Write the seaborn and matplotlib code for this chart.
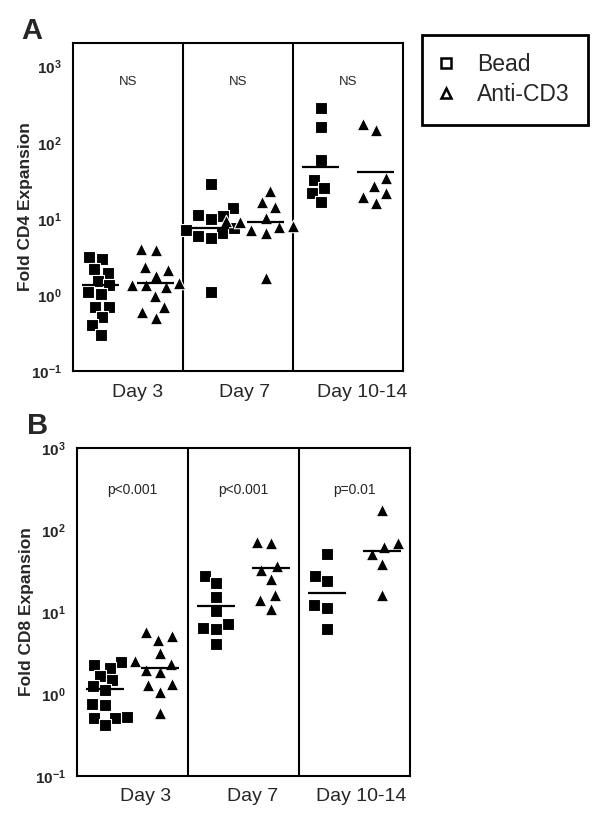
import matplotlib
import matplotlib.pyplot as plt
import pandas as pd
import seaborn as sns
from matplotlib.lines import Line2D
from matplotlib.ticker import NullLocator

matplotlib.use("Agg")


DAYS = ["Day 3", "Day 7", "Day 10-14"]
TREATMENTS = ["Bead", "Anti-CD3"]

# panel A - fold CD4 expansion
cd4_bead_day3 = [3.13, 2.97, 2.20, 1.93, 1.54, 1.33, 1.10, 1.02, 0.70, 0.69, 0.51, 0.40, 0.30]
cd4_anti_day3 = [3.99, 3.95, 2.35, 2.13, 1.78, 1.44, 1.36, 1.33, 1.27, 0.97, 0.70, 0.59, 0.50]
cd4_bead_day7 = [28.7, 13.9, 11.4, 11.0, 10.0, 7.6, 7.1, 6.5, 6.0, 5.6, 1.09]
cd4_anti_day7 = [23.5, 16.8, 14.2, 10.4, 9.5, 9.2, 8.1, 7.8, 7.1, 6.6, 1.69]
cd4_bead_day10 = [284, 163, 59.4, 32.4, 25.2, 22.1, 16.8]
cd4_anti_day10 = [177, 147, 34.2, 27.1, 21.7, 19.6, 16.3]
cd4_bead_lines = [1.35, 7.5, 48.5]
cd4_anti_lines = [1.43, 9.0, 41.7]
cd4_notes = ["NS", "NS", "NS"]

# panel B - fold CD8 expansion
cd8_bead_day3 = [2.41, 2.21, 2.04, 1.63, 1.45, 1.23, 1.10, 0.75, 0.73, 0.52, 0.51, 0.50, 0.41]
cd8_anti_day3 = [5.64, 5.0, 4.56, 3.13, 2.50, 2.32, 1.96, 1.83, 1.32, 1.26, 1.05, 0.58]
cd8_bead_day7 = [26.9, 22.3, 15.1, 10.2, 7.0, 6.3, 6.1, 4.0]
cd8_anti_day7 = [70.6, 68.6, 35.7, 32.5, 25.2, 15.8, 14.0, 10.9]
cd8_bead_day10 = [51, 27.2, 23.4, 12.2, 11.1, 6.1]
cd8_anti_day10 = [172, 68.7, 61.4, 50.0, 38.5, 15.8]
cd8_bead_lines = [1.15, 11.9, 16.9]
cd8_anti_lines = [2.07, 34.4, 54.4]
cd8_notes = ["p<0.001", "p<0.001", "p=0.01"]

OFFSETS = {"Bead": -0.25, "Anti-CD3": 0.25}
MARKERS = {"Bead": "s", "Anti-CD3": "^"}
# thin white edge keeps the swarm spacing a touch wider than the black marks
SIZES = {"Bead": 8.0, "Anti-CD3": 9.0}
EDGE = 0.8


def build_frame(bead_groups, anti_groups) -> pd.DataFrame:
    rows = []
    for treatment, groups in (("Bead", bead_groups), ("Anti-CD3", anti_groups)):
        for idx, values in enumerate(groups):
            for v in values:
                rows.append(
                    {"day": DAYS[idx], "treatment": treatment,
                     "pos": idx + OFFSETS[treatment], "value": v}
                )
    return pd.DataFrame(rows)


def draw_panel(ax, df, bead_lines, anti_lines, notes, ylabel, ytop, note_y,
               tick_pos, label_x):
    for treatment in TREATMENTS:
        sub = df[df["treatment"] == treatment]
        sns.swarmplot(
            data=sub, x="pos", y="value", native_scale=True, orient="x",
            log_scale=(False, True), marker=MARKERS[treatment],
            size=SIZES[treatment], color="black", edgecolor="white",
            linewidth=EDGE, ax=ax,
        )

    for treatment, lines in (("Bead", bead_lines), ("Anti-CD3", anti_lines)):
        centers = [i + OFFSETS[treatment] for i in range(len(lines))]
        ax.hlines(lines, [c - 0.17 for c in centers], [c + 0.17 for c in centers],
                  colors="black", linewidth=1.6, zorder=5)

    for x in (0.5, 1.5):
        ax.axvline(x, color="black", linewidth=1.5)

    for i, note in enumerate(notes):
        ax.text(i, note_y, note, ha="center", va="center",
                fontsize=10 if "p" in note else 9.5,
                transform=ax.get_xaxis_transform())

    ax.set_xlim(-0.5, 2.5)
    ax.set_ylim(0.1, ytop)
    ax.set_yticks([0.1, 1, 10, 100, 1000])
    ax.set_yticklabels([r"$\mathbf{10^{-1}}$", r"$\mathbf{10^{0}}$", r"$\mathbf{10^{1}}$",
                        r"$\mathbf{10^{2}}$", r"$\mathbf{10^{3}}$"], fontsize=11)
    ax.yaxis.set_minor_locator(NullLocator())
    ax.tick_params(axis="y", length=6, width=1.5, color="black", pad=2)

    ax.set_xticks(tick_pos)
    ax.set_xticklabels(DAYS, fontsize=14)
    ax.tick_params(axis="x", length=0, pad=9)

    ax.set_xlabel("")
    ax.set_ylabel(ylabel, fontsize=12.5, fontweight="bold")
    ax.yaxis.set_label_coords(label_x, 0.5)

    for spine in ax.spines.values():
        spine.set_visible(True)
        spine.set_linewidth(1.5)
        spine.set_color("black")


def main() -> None:
    sns.set_style("white")
    plt.rcParams["font.family"] = ["Liberation Sans", "DejaVu Sans"]
    plt.rcParams["mathtext.fontset"] = "custom"
    plt.rcParams["mathtext.rm"] = "Liberation Sans"
    plt.rcParams["mathtext.bf"] = "Liberation Sans:bold"

    cd4 = build_frame([cd4_bead_day3, cd4_bead_day7, cd4_bead_day10],
                      [cd4_anti_day3, cd4_anti_day7, cd4_anti_day10])
    cd8 = build_frame([cd8_bead_day3, cd8_bead_day7, cd8_bead_day10],
                      [cd8_anti_day3, cd8_anti_day7, cd8_anti_day10])

    fig = plt.figure(figsize=(6, 8.22), dpi=100, facecolor="white")
    ax_a = fig.add_axes([73 / 600, 1 - 371 / 822, 330 / 600, 328 / 822])
    ax_b = fig.add_axes([77 / 600, 1 - 775.7 / 822, 333 / 600, 328 / 822])

    draw_panel(ax_a, cd4, cd4_bead_lines, cd4_anti_lines, cd4_notes,
               "Fold CD4 Expansion", 10 ** 3.311, 0.881, [0.09, 1.06, 2.13], -0.121)
    draw_panel(ax_b, cd8, cd8_bead_lines, cd8_anti_lines, cd8_notes,
               "Fold CD8 Expansion", 1000, 0.872, [0.12, 1.08, 2.06], -0.129)

    fig.text(21 / 600, 1 - 39 / 822, "A", fontsize=21, fontweight="bold", va="baseline")
    fig.text(27 / 600, 1 - 434 / 822, "B", fontsize=21, fontweight="bold", va="baseline")

    handles = [
        Line2D([], [], linestyle="none", marker="s", markersize=6.5,
               markerfacecolor="white", markeredgecolor="black", markeredgewidth=1.8),
        Line2D([], [], linestyle="none", marker="^", markersize=7,
               markerfacecolor="white", markeredgecolor="black", markeredgewidth=1.8),
    ]
    leg = fig.legend(
        handles, TREATMENTS, loc="upper left",
        bbox_to_anchor=(421.7 / 600, 1 - 35 / 822), borderaxespad=0,
        fontsize=16.5, frameon=True, fancybox=False, framealpha=1,
        edgecolor="black", borderpad=0.8, handlelength=0.5,
        handletextpad=1.1, labelspacing=0.3,
    )
    leg.get_frame().set_linewidth(2)

    fig.savefig("out.png", dpi=100)
    plt.close(fig)


if __name__ == "__main__":
    main()
